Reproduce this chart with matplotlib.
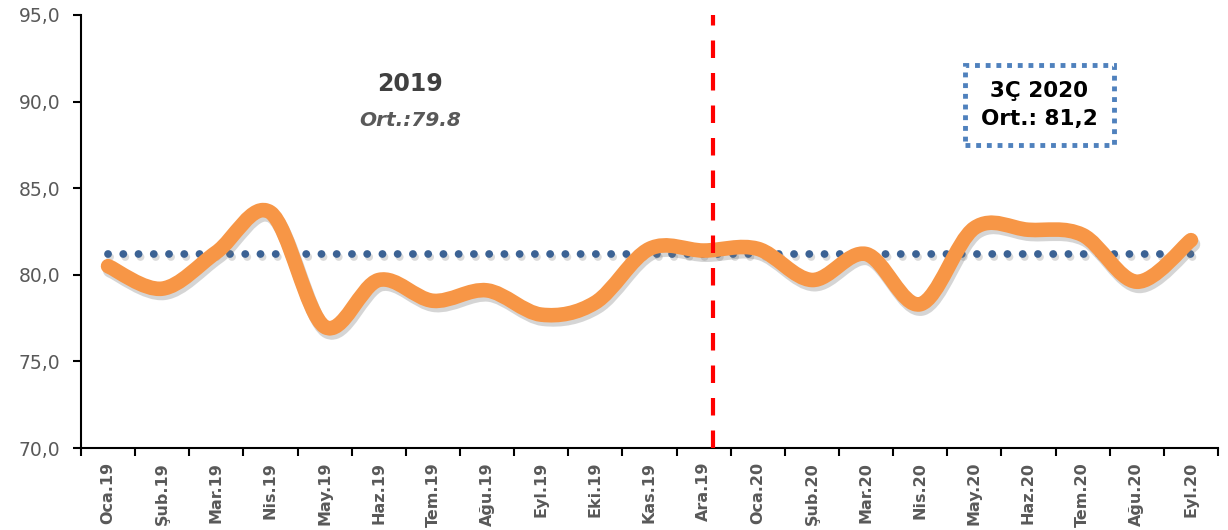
#!/usr/bin/env python3
# kapasite kullanim orani - aylik seyir, 2019 vs 3C 2020

import numpy as np
import matplotlib
matplotlib.use("Agg")
import matplotlib.pyplot as plt
import matplotlib.patheffects as pe
from matplotlib.path import Path
from matplotlib.patches import PathPatch
from matplotlib.ticker import FuncFormatter

months = ["Oca.19", "Şub.19", "Mar.19", "Nis.19", "May.19", "Haz.19", "Tem.19",
          "Ağu.19", "Eyl.19", "Eki.19", "Kas.19", "Ara.19",
          "Oca.20", "Şub.20", "Mar.20", "Nis.20", "May.20", "Haz.20", "Tem.20",
          "Ağu.20", "Eyl.20"]
values = [80.5, 79.2, 81.3, 83.6, 77.0, 79.7, 78.5, 79.1, 77.7, 78.4, 81.5, 81.4,
          81.5, 79.7, 81.2, 78.3, 82.7, 82.6, 82.3, 79.6, 82.0]
avg_2020 = 81.2
split_pos = 11.18  # red divider between Ara.19 and Oca.20


def smooth_path(xs, ys):
    # excel style smoothed line: bezier segments with catmull-rom handles
    pts = np.column_stack([xs, ys])
    n = len(pts)
    verts = [pts[0]]
    codes = [Path.MOVETO]
    for i in range(n - 1):
        p0 = pts[max(i - 1, 0)]
        p1 = pts[i]
        p2 = pts[i + 1]
        p3 = pts[min(i + 2, n - 1)]
        c1 = p1 + (p2 - p0) / 6.0
        c2 = p2 - (p3 - p1) / 6.0
        verts += [c1, c2, p2]
        codes += [Path.CURVE4] * 3
    return Path(verts, codes)


fig = plt.figure(figsize=(12.28, 5.30), dpi=100)
ax = fig.add_axes([81 / 1228, 82 / 530, 1137 / 1228, 433 / 530])

x = np.arange(len(months))

# average line of 2020
ax.plot([x[0], x[-1]], [avg_2020, avg_2020], color="#3B6294", lw=5.6,
        linestyle=(0, (0.01, 1.95)), dash_capstyle="round", zorder=3,
        path_effects=[pe.SimpleLineShadow(offset=(1.5, -2.5), shadow_color="#888888", alpha=0.3),
                      pe.Normal()])

curve = PathPatch(smooth_path(x, values), fill=False, edgecolor="#F79646", lw=10.5,
                  capstyle="round", joinstyle="round", zorder=4,
                  path_effects=[pe.SimpleLineShadow(offset=(1.5, -3), shadow_color="#777777", alpha=0.3),
                                pe.Normal()])
ax.add_patch(curve)

ax.axvline(split_pos, color="#FF0000", lw=3, linestyle=(0, (4.2, 3.6)), zorder=5)

ax.set_xlim(-0.5, len(months) - 0.5)
ax.set_ylim(70, 95)
ax.set_yticks(np.arange(70, 95.1, 5))
ax.yaxis.set_major_formatter(FuncFormatter(lambda v, p: f"{v:.1f}".replace(".", ",")))

ax.set_xticks(x)
ax.set_xticklabels(months, rotation=90, fontsize=11.5, fontweight="bold", color="#595959")
ax.set_xticks(np.arange(-0.5, len(months), 1), minor=True)
ax.tick_params(axis="x", which="major", length=0, pad=10)
ax.tick_params(axis="x", which="minor", length=6, width=1.5, color="black")
ax.tick_params(axis="y", length=6, width=1.5, labelsize=13.5, labelcolor="#595959", pad=9)

for s in ["top", "right"]:
    ax.spines[s].set_visible(False)
for s in ["left", "bottom"]:
    ax.spines[s].set_linewidth(1.5)

ax.text(5.58, 91.0, "2019", ha="center", va="center", fontsize=17, fontweight="bold",
        color="#404040")
ax.text(5.58, 88.9, "Ort.:79.8", ha="center", va="center", fontsize=14.5, fontweight="bold",
        style="italic", color="#595959")

ax.text(17.2, 89.8, "3Ç 2020\nOrt.: 81,2", ha="center", va="center", fontsize=15.5,
        fontweight="bold", color="black", linespacing=1.45,
        bbox=dict(boxstyle="square,pad=0.75", fc="white", ec="#4F81BD", lw=3.5,
                  ls=(0, (1, 1.2))))

fig.savefig("out.png", dpi=100)
